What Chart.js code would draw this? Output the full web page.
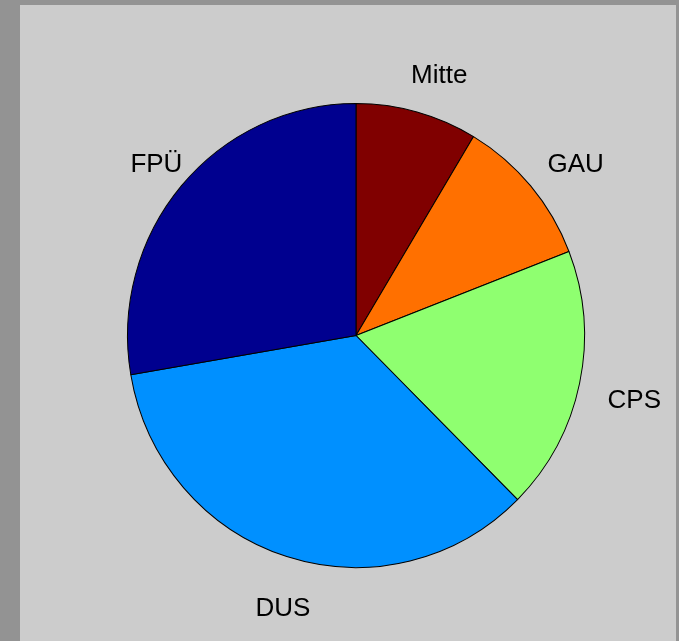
<!DOCTYPE html>
<html>
<head>
<meta charset="utf-8">
<script src="https://cdn.jsdelivr.net/npm/chart.js@4/dist/chart.umd.min.js"></script>
<style>
    html, body { margin: 0; padding: 0; background: #939393; overflow: hidden; }
    #panel { position: absolute; left: 20px; top: 5px; width: 656px; height: 636px; background: #cccccc; }
    #wrap { position: absolute; left: 0; top: 0; width: 679px; height: 641px; }
</style>
</head>
<body>
<div id="panel"></div>
<div id="wrap"><canvas id="chart" width="679" height="641"></canvas></div>
<script>
// slice names and shares (percent)
var labels = ["Mitte", "GAU", "CPS", "DUS", "FPÜ"];
var shares = [8.6, 10.5, 18.4, 34.8, 27.7];
var colors = ["#800000", "#ff7000", "#8fff70", "#0090ff", "#00008f"];

// the original pie is a little taller than wide
var stretchY = 232.5 / 229;

var stretchPie = {
    id: 'stretchPie',
    beforeDatasetsDraw: function(chart) {
        var arc = chart.getDatasetMeta(0).data[0];
        var ctx = chart.ctx;
        ctx.save();
        ctx.translate(arc.x, arc.y);
        ctx.scale(1, stretchY);
        ctx.translate(-arc.x, -arc.y);
    },
    afterDatasetsDraw: function(chart) {
        chart.ctx.restore();
    }
};

// draws the names outside the pie, at 1.2 x radius on the middle angle
var outsideLabels = {
    id: 'outsideLabels',
    afterDraw: function(chart) {
        var ctx = chart.ctx;
        var arcs = chart.getDatasetMeta(0).data;
        ctx.save();
        ctx.font = '26px "Liberation Sans", Arial, sans-serif';
        ctx.fillStyle = '#000000';
        ctx.textAlign = 'center';
        ctx.textBaseline = 'middle';
        arcs.forEach(function(arc, i) {
            var mid = (arc.startAngle + arc.endAngle) / 2;
            var r = arc.outerRadius * 1.2;
            var x = arc.x + Math.cos(mid) * r + 10;
            var y = arc.y + Math.sin(mid) * r * stretchY + 8.5;
            ctx.fillText(chart.data.labels[i], x, y);
        });
        ctx.restore();
    }
};

var ctx = document.getElementById('chart').getContext('2d');
var myChart = new Chart(ctx, {
    type: 'pie',
    data: {
        labels: labels,
        datasets: [{
            data: shares,
            backgroundColor: colors,
            borderColor: '#000000',
            borderWidth: 1
        }]
    },
    options: {
        responsive: false,
        animation: false,
        layout: {
            padding: { left: 127, right: 94, top: 106, bottom: 76 }
        },
        plugins: {
            legend: { display: false },
            tooltip: { enabled: false }
        }
    },
    plugins: [stretchPie, outsideLabels]
});
</script>
</body>
</html>
